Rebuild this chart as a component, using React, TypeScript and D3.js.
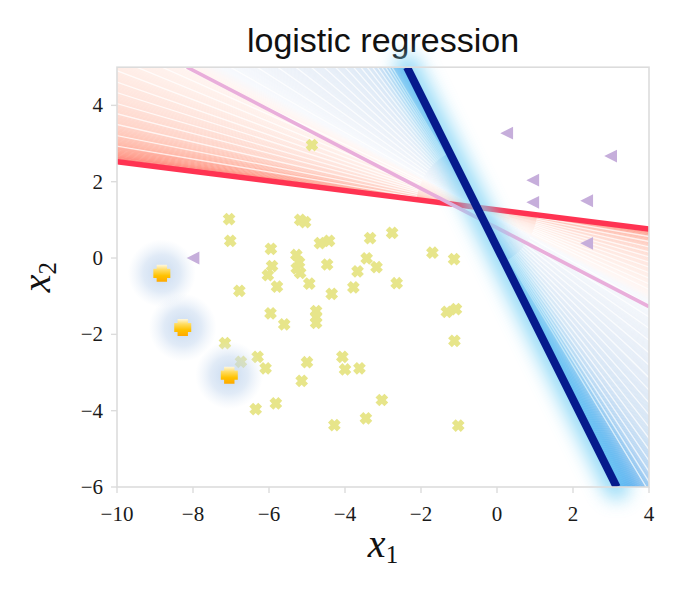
import React from "react";
import * as d3 from "d3";

const WIDTH = 681;
const HEIGHT = 596;

const xTicks = [-10, -8, -6, -4, -2, 0, 2, 4];
const yTicks = [-6, -4, -2, 0, 2, 4];

// class 0: yellow crosses
const class0X = [-4.87, -7.05, -7.02, -5.18, -5.05, -5.95, -5.92, -6.03, -5.79, -5.28, -5.21, -5.27, -5.18, -4.94, -4.66, -4.42, -4.47, -4.35, -6.78, -5.96, -5.6, -4.76, -4.76, -4.76, -7.16, -6.74, -6.3, -6.09, -5.0, -5.14, -5.82, -6.35, -4.28, -4.07, -4.0, -3.62, -3.03, -3.45, -3.34, -2.76, -3.43, -3.17, -3.67, -3.78, -2.64, -1.7, -1.13, -1.32, -1.08, -1.12, -1.02];
const class0Y = [2.96, 1.02, 0.45, 1.0, 0.94, 0.24, -0.21, -0.45, -0.75, 0.08, -0.11, -0.27, -0.39, -0.67, 0.39, 0.45, -0.17, -0.94, -0.86, -1.45, -1.74, -1.39, -1.55, -1.7, -2.23, -2.72, -2.59, -2.89, -2.73, -3.22, -3.81, -3.96, -4.38, -2.59, -2.92, -2.89, -3.72, -4.2, 0.52, 0.66, -0.01, -0.24, -0.35, -0.77, -0.66, 0.14, -0.03, -1.41, -1.34, -2.17, -4.39];

// class 1: purple triangles
const class1X = [-8.0, 0.255, 0.94, 0.94, 2.36, 2.99, 2.36];
const class1Y = [0.0, 3.27, 2.04, 1.46, 1.5, 2.67, 0.385];

// highlighted points
const highlightX = [-8.82, -8.27, -7.045];
const highlightY = [-0.4, -1.82, -3.07];

// decision boundaries y = slope * x + intercept : start, reference, final
const boundarySlopes = [-0.1259, -0.516, -1.9935];
const boundaryIntercepts = [1.264, 0.79, 0.279];

// training path of the boundary (angles in degrees, rotating about pivot)
const fanPivotX = -0.53;
const fanPivotY = 1.33;
const fanAngles = [9.6, 11.2, 12.9, 14.5, 16.0, 17.6, 19.1, 20.7, 22.3, 23.9, 25.4, 29.5, 32.4, 35.0, 37.6, 40.1, 42.4, 44.6, 46.6, 48.5, 50.2, 51.8, 53.2, 54.5, 55.7, 56.8, 57.8, 58.7];
const fanStopAngles = [7.18, 8.3, 10.3, 13, 17, 22, 26.5, 28.5, 36, 46, 53, 57, 59.5, 61.5, 63.36];
const fanStopColors = ["#ff7d78", "#ffa090", "#ffbfb0", "#ffd5ca", "#ffe4dc", "#ffefe9", "#fff6f3", "#f7f9fd", "#edf2f9", "#e3ecf7", "#d5e5f5", "#b8d7f3", "#84bff0", "#52a6ef", "#2f95ee"];

const X_PATH = (() => {
  const L = 6.3, a = 2.7;
  const pts: [number, number][] = [
    [-a, -L], [a, -L], [a, -a], [L, -a], [L, a], [a, a], [a, L], [-a, L], [-a, a], [-L, a], [-L, -a], [-a, -a],
  ];
  const c = Math.SQRT1_2;
  return "M" + pts.map(([px, py]) => `${((px - py) * c).toFixed(2)},${((px + py) * c).toFixed(2)}`).join("L") + "Z";
})();

const PLUS_PATH = (() => {
  const L = 8.5, a = 4.6, b = 5.2;
  const pts: [number, number][] = [
    [-b, -L], [b, -L], [b, -a], [L, -a], [L, a], [b, a], [b, L], [-b, L], [-b, a], [-L, a], [-L, -a], [-b, -a],
  ];
  return "M" + pts.map(([px, py]) => `${px},${py}`).join("L") + "Z";
})();

export default function App() {
  const x = d3.scaleLinear().domain([-10, 4]).range([117, 649]);
  const y = d3.scaleLinear().domain([-6, 5]).range([487, 67.2]);
  const [dx0, dx1] = x.domain();
  const [dy0, dy1] = y.domain();

  const seg = (m: number, b: number) => {
    const xa = (dy0 - b) / m;
    const xb = (dy1 - b) / m;
    const lo = Math.max(dx0, Math.min(xa, xb));
    const hi = Math.min(dx1, Math.max(xa, xb));
    return [x(lo), y(m * lo + b), x(hi), y(m * hi + b)];
  };

  const dir = (deg: number) => [Math.cos((deg * Math.PI) / 180), -Math.sin((deg * Math.PI) / 180)];
  const P = (r: number, deg: number) => {
    const d = dir(deg);
    return [x(fanPivotX + r * d[0]), y(fanPivotY + r * d[1])];
  };

  const color = d3
    .scaleLinear<string>()
    .domain(fanStopAngles)
    .range(fanStopColors)
    .interpolate(d3.interpolateRgb)
    .clamp(true);

  const aStart = (Math.atan(-boundarySlopes[0]) * 180) / Math.PI;
  const aEnd = (Math.atan(-boundarySlopes[2]) * 180) / Math.PI;
  const step = 0.2;
  const wedgeAngles = d3.range(aStart, aEnd, step);
  const R = 40;
  const pc = [x(fanPivotX), y(fanPivotY)];
  const wedges = wedgeAngles.map((a) => {
    const b = Math.min(a + step + 0.08, aEnd);
    const p1 = P(R, a), p2 = P(R, b), q1 = P(-R, a), q2 = P(-R, b);
    const d = `M${pc[0]},${pc[1]}L${p1[0]},${p1[1]}L${p2[0]},${p2[1]}ZM${pc[0]},${pc[1]}L${q1[0]},${q1[1]}L${q2[0]},${q2[1]}Z`;
    return { d, fill: color(a + step / 2) };
  });

  const streaks = fanAngles.map((a) => {
    const s1 = P(1.6, a), e1 = P(R, a), s2 = P(-1.6, a), e2 = P(-R, a);
    return `M${s1[0]},${s1[1]}L${e1[0]},${e1[1]}M${s2[0]},${s2[1]}L${e2[0]},${e2[1]}`;
  });

  const red = seg(boundarySlopes[0], boundaryIntercepts[0]);
  const pink = seg(boundarySlopes[1], boundaryIntercepts[1]);
  const navy = seg(boundarySlopes[2], boundaryIntercepts[2]);

  const left = x.range()[0], right = x.range()[1];
  const top = y.range()[1], bottom = y.range()[0];
  const axisColor = "#dcdcdc";
  const tickFont = "'Liberation Serif', serif";

  const fmt = (v: number) => (v < 0 ? "\u2212" + Math.abs(v) : String(v));

  return (
    <svg width={WIDTH} height={HEIGHT} style={{ position: "absolute", left: 0, top: 0, display: "block", background: "#fff" }}>
      <defs>
        <clipPath id="plotClip">
          <rect x={left} y={top} width={right - left} height={bottom - top} />
        </clipPath>
        <filter id="glow" x="-50%" y="-50%" width="200%" height="200%">
          <feGaussianBlur stdDeviation="9" />
        </filter>
        <radialGradient id="halo">
          <stop offset="0%" stopColor="#b9d0ec" stopOpacity={0.8} />
          <stop offset="55%" stopColor="#c8daf0" stopOpacity={0.55} />
          <stop offset="100%" stopColor="#dbe7f5" stopOpacity={0} />
        </radialGradient>
        <linearGradient id="gold" x1="0" y1="0" x2="0" y2="1">
          <stop offset="0%" stopColor="#fff8e0" />
          <stop offset="30%" stopColor="#ffdc60" />
          <stop offset="65%" stopColor="#ffc200" />
          <stop offset="100%" stopColor="#ffa800" />
        </linearGradient>
      </defs>

      <text x={(left + right) / 2} y={52} textAnchor="middle" fontFamily="'Liberation Sans', sans-serif" fontSize={34} fill="#111">
        logistic regression
      </text>

      <g clipPath="url(#plotClip)">
        {wedges.map((w, i) => (
          <path key={i} d={w.d} fill={w.fill} stroke="none" />
        ))}
        {streaks.map((d, i) => (
          <path key={i} d={d} stroke="#ffffff" strokeOpacity={0.75} strokeWidth={1.3} fill="none" />
        ))}
        <line x1={red[0]} y1={red[1]} x2={red[2]} y2={red[3]} stroke="#ff3352" strokeWidth={5.5} />
        <line x1={pink[0]} y1={pink[1]} x2={pink[2]} y2={pink[3]} stroke="#e9aedb" strokeWidth={3.6} />
      </g>

      <line x1={navy[0]} y1={navy[1]} x2={navy[2]} y2={navy[3]} stroke="#7fd3f5" strokeWidth={26} strokeLinecap="round" filter="url(#glow)" opacity={0.8} />

      <g clipPath="url(#plotClip)">
        <line x1={navy[0]} y1={navy[1]} x2={navy[2]} y2={navy[3]} stroke="#061a8c" strokeWidth={8} />
      </g>

      {/* axes frame */}
      <rect x={left} y={top} width={right - left} height={bottom - top} fill="none" stroke={axisColor} strokeWidth={1.6} />
      {xTicks.map((t) => (
        <g key={"xt" + t}>
          <line x1={x(t)} x2={x(t)} y1={bottom} y2={bottom + 6} stroke={axisColor} strokeWidth={1.4} />
          <text x={x(t)} y={521} textAnchor="middle" fontFamily={tickFont} fontSize={21} fill="#1a1a1a">
            {fmt(t)}
          </text>
        </g>
      ))}
      {yTicks.map((t) => (
        <g key={"yt" + t}>
          <line x1={left - 6} x2={left} y1={y(t)} y2={y(t)} stroke={axisColor} strokeWidth={1.4} />
          <text x={103} y={y(t) + 7} textAnchor="end" fontFamily={tickFont} fontSize={21} fill="#1a1a1a">
            {fmt(t)}
          </text>
        </g>
      ))}

      {/* points */}
      {class0X.map((v, i) => (
        <path key={"c0" + i} d={X_PATH} transform={`translate(${x(v)},${y(class0Y[i])})`} fill="#e7e58a" />
      ))}
      {class1X.map((v, i) => (
        <path key={"c1" + i} d="M-6.4,0L6.4,-6.4L6.4,6.4Z" transform={`translate(${x(v)},${y(class1Y[i])})`} fill="#c6aedb" />
      ))}
      {highlightX.map((v, i) => (
        <circle key={"h" + i} cx={x(v)} cy={y(highlightY[i])} r={34} fill="url(#halo)" />
      ))}
      {highlightX.map((v, i) => (
        <path key={"hp" + i} d={PLUS_PATH} transform={`translate(${x(v)},${y(highlightY[i])})`} fill="url(#gold)" />
      ))}

      {/* axis labels */}
      <text x={383} y={557} textAnchor="middle" fontFamily={tickFont} fill="#111">
        <tspan fontStyle="italic" fontSize={40}>x</tspan>
        <tspan fontSize={25} dy={6}>1</tspan>
      </text>
      <text transform={`translate(50,${(top + bottom) / 2}) rotate(-90)`} textAnchor="middle" fontFamily={tickFont} fill="#111">
        <tspan fontStyle="italic" fontSize={40}>x</tspan>
        <tspan fontSize={25} dy={6}>2</tspan>
      </text>
    </svg>
  );
}
